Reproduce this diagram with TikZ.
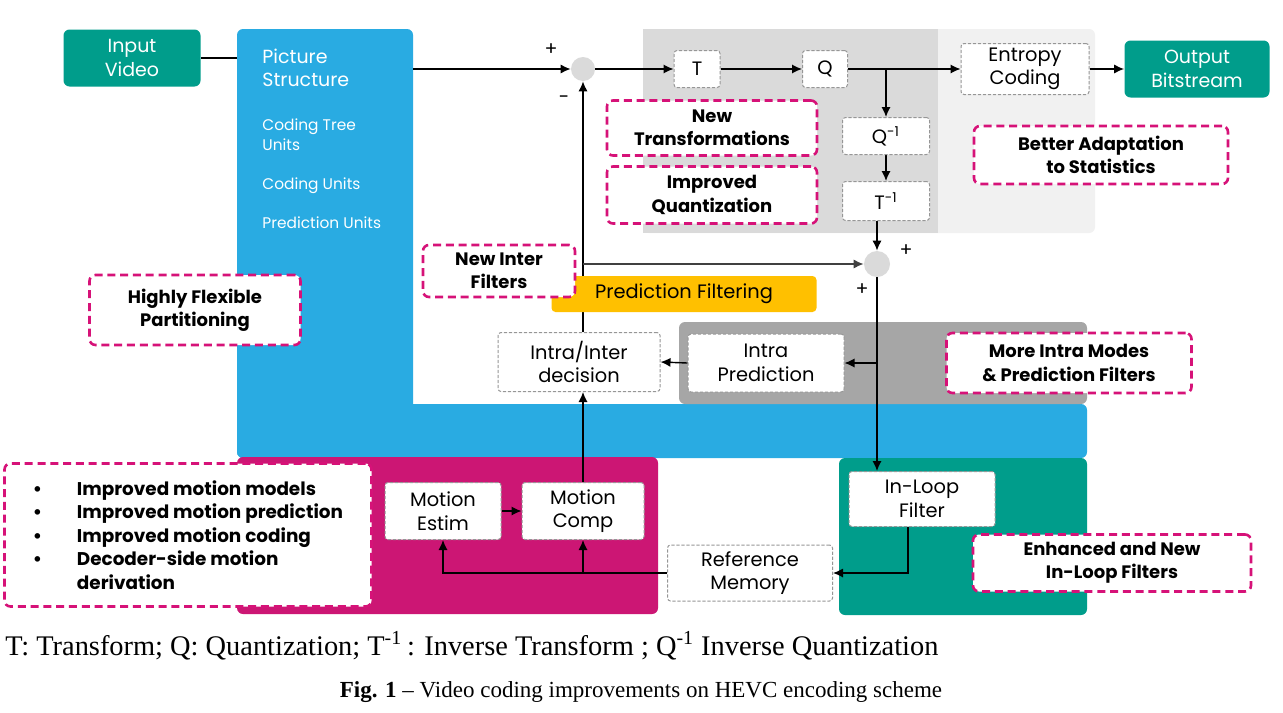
\documentclass[tikz,border=0pt]{standalone}
\usepackage{fontspec}
\setsansfont{Poppins}
\setmainfont{Liberation Serif}
\renewcommand{\familydefault}{\sfdefault}
\usetikzlibrary{arrows.meta}
\definecolor{tealc}{RGB}{0,157,139}
\definecolor{bluec}{RGB}{41,171,226}
\definecolor{magc}{RGB}{204,22,116}
\definecolor{magd}{RGB}{214,18,120}
\definecolor{yelc}{RGB}{255,192,0}
\definecolor{gdark}{RGB}{218,218,218}
\definecolor{glight}{RGB}{241,241,241}
\definecolor{gmid}{RGB}{166,166,166}
\definecolor{bordc}{RGB}{150,150,150}
\newcommand\fbig{\fontsize{9.5}{12}\selectfont}
\newcommand\fmid{\fontsize{9.7}{11.8}\selectfont}
\newcommand\fsmall{\fontsize{7.7}{10}\selectfont}
\newcommand\fnote{\bfseries\fontsize{9}{11.6}\selectfont}
\newcommand\fbul{\bfseries\fontsize{9.2}{11.75}\selectfont}
\pgfdeclarelayer{bg}
\pgfdeclarelayer{lines}
\pgfsetlayers{bg,lines,main}
\tikzset{
  sz/.style 2 args={minimum width=#1*0.5pt, minimum height=#2*0.5pt},
  gbox/.style={draw=bordc, line width=0.5pt, dash pattern=on 1.6pt off 0.9pt, fill=white,
    rounded corners=1.5pt, align=center, font=\fmid, inner sep=1pt},
  note/.style={draw=magd, line width=1.3pt, dash pattern=on 4pt off 2.4pt, fill=white,
    rounded corners=3pt, align=center, font=\fnote, inner sep=1pt},
  solidbox/.style={rounded corners=3pt, align=center, font=\fbig, text=white, inner sep=1pt},
  circ/.style={circle, fill=gdark, inner sep=0pt},
  arr/.style={-{Latex[length=5pt,width=4.6pt]}, line width=0.7pt},
  ln/.style={line width=0.7pt},
  sign/.style={font=\fbig, inner sep=0pt},
  wtxt/.style={text=white, anchor=base west, inner sep=0pt}
}
\begin{document}
\begin{tikzpicture}[x=0.5pt,y=-0.5pt]
\useasboundingbox (0,0) rectangle (1283,712);

% nodes
\node[solidbox, fill=tealc, sz={137}{57}] (inp) at (132,58) {Input\\Video};
\node[solidbox, fill=tealc, sz={145}{57}] (out) at (1197,69) {Output\\Bitstream};

\node[wtxt, font=\fbig] (ps1) at (262,63) {Picture};
\node[wtxt, font=\fbig] (ps2) at (262,86) {Structure};
\node[wtxt, font=\fsmall] (ct1) at (262,130) {Coding Tree};
\node[wtxt, font=\fsmall] (ct2) at (262,150) {Units};
\node[wtxt, font=\fsmall] (cu) at (262,189) {Coding Units};
\node[wtxt, font=\fsmall] (pu) at (262,228) {Prediction Units};

\coordinate (psL) at (237,58);
\coordinate (psR) at (413,69);

\node[circ, minimum size=12pt] (circ1) at (583,69) {};
\node[circ, minimum size=13pt] (circ2) at (877,264) {};
\node[sign] (p1) at (551,50) {+};
\node[sign] (m1) at (564,100) {-};
\node[sign] (p2) at (906,251) {+};
\node[sign] (p3) at (862,290) {+};

\node[gbox, sz={46}{37}] (T) at (697,69) {T};
\node[gbox, sz={45}{37}] (Q) at (825,69) {Q};
\node[gbox, sz={128}{51}] (ent) at (1025,69) {Entropy\\Coding};
\node[gbox, sz={87}{37}] (qi) at (886,136) {Q\textsuperscript{-1}};
\node[gbox, sz={87}{39}] (ti) at (886,201) {T\textsuperscript{-1}};

\node[note, sz={210}{55}] (newT) at (712,128) {New\\Transformations};
\node[note, sz={210}{57}] (impQ) at (712,195) {Improved\\Quantization};
\node[note, sz={254}{58}] (better) at (1101,155) {Better Adaptation\\to Statistics};

\node[fill=yelc, rounded corners=2pt, sz={265}{36}, font=\fmid, inner sep=1pt] (predF) at (684,294) {Prediction Filtering};
\node[note, sz={152}{52}] (newInter) at (499,271) {New Inter\\Filters};
\node[note, sz={211}{70}] (hfp) at (195,310) {Highly Flexible\\Partitioning};

\node[gbox, sz={162}{59}] (iid) at (579,362) {Intra/Inter\\decision};
\node[gbox, sz={156}{58}] (ip) at (766,363) {Intra\\Prediction};
\node[note, sz={245}{60}] (more) at (1069,363) {More Intra Modes\\\& Prediction Filters};

\node[note, sz={367}{143}, align=left, font=\fbul] (bul) at (188,535) {%
\makebox[22pt][l]{\textbullet}Improved motion models\\
\makebox[22pt][l]{\textbullet}Improved motion prediction\\
\makebox[22pt][l]{\textbullet}Improved motion coding\\
\makebox[22pt][l]{\textbullet}Decoder-side motion\\
\makebox[22pt][l]{}derivation};
\node[gbox, sz={116}{57}] (me) at (443,511) {Motion\\Estim};
\node[gbox, sz={122}{57}] (mc) at (583,511) {Motion\\Comp};
\node[gbox, sz={146}{55}] (ilf) at (922,499) {In-Loop\\Filter};
\node[gbox, sz={165}{56}] (ref) at (750,573) {Reference\\Memory};
\node[note, sz={278}{57}] (enh) at (1112,563) {Enhanced and New\\In-Loop Filters};

\node[anchor=base west, inner sep=0pt, font=\rmfamily\fontsize{14.2}{16}\selectfont] (cap1) at (5,655)
  {T: Transform; Q: Quantization; T\textsuperscript{-1}\,: Inverse Transform ; Q\textsuperscript{-1} Inverse Quantization};
\node[anchor=base, inner sep=0pt, font=\rmfamily\fontsize{11.5}{13}\selectfont] (cap2) at (641,697)
  {\textbf{Fig. 1} – Video coding improvements on HEVC encoding scheme};

% regions
\begin{pgfonlayer}{bg}
\fill[white] (0,0) rectangle (1283,712);
\fill[glight, rounded corners=3pt] (643,29) rectangle (1095,233);
\fill[gdark] (643,29) rectangle (938,233);
\fill[bluec, rounded corners=3pt] (237,29) rectangle (413,458);
\fill[bluec, rounded corners=3pt] (237,404) rectangle (1087,458);
\fill[gmid, rounded corners=3pt] (679,322) rectangle (1087,404);
\fill[magc, rounded corners=3pt] (237,457) rectangle (658,614);
\fill[tealc, rounded corners=3pt] (839,458) rectangle (1087,615);
\end{pgfonlayer}

% connectors
\begin{pgfonlayer}{lines}
\draw[ln] (inp.east |- psL) -- (psL);
\draw[arr] (psR) -- (circ1.west);
\draw[arr] (circ1.east) -- (T.west);
\draw[arr] (T.east) -- (Q.west);
\draw[arr] (Q.east) -- (ent.west);
\draw[arr] (ent.east) -- (out.west);
\draw[arr] (qi.north |- Q.east) -- (qi.north);
\draw[arr] (qi.south) -- (ti.north);
\draw[arr] (circ2 |- ti.south) -- (circ2.north);
\draw[arr] (circ1 |- iid.north) -- (circ1.south);
\draw[arr, draw=black!75] (circ1 |- circ2.west) -- (circ2.west);
\draw[arr] (circ2.south) -- (circ2 |- ilf.north);
\draw[arr] (circ2 |- ip.east) -- (ip.east);
\draw[arr] (ip.west) -- (iid.east);
\draw[arr] (mc.north) -- (mc.north |- iid.south);
\draw[arr] (me.east) -- (mc.west);
\draw[arr] ([xshift=-7pt]ilf.south) |- (ref.east);
\draw[arr] (ref.west) -| (me.south);
\draw[arr] (mc.south |- ref.west) -- (mc.south);
\end{pgfonlayer}
\end{tikzpicture}
\end{document}
